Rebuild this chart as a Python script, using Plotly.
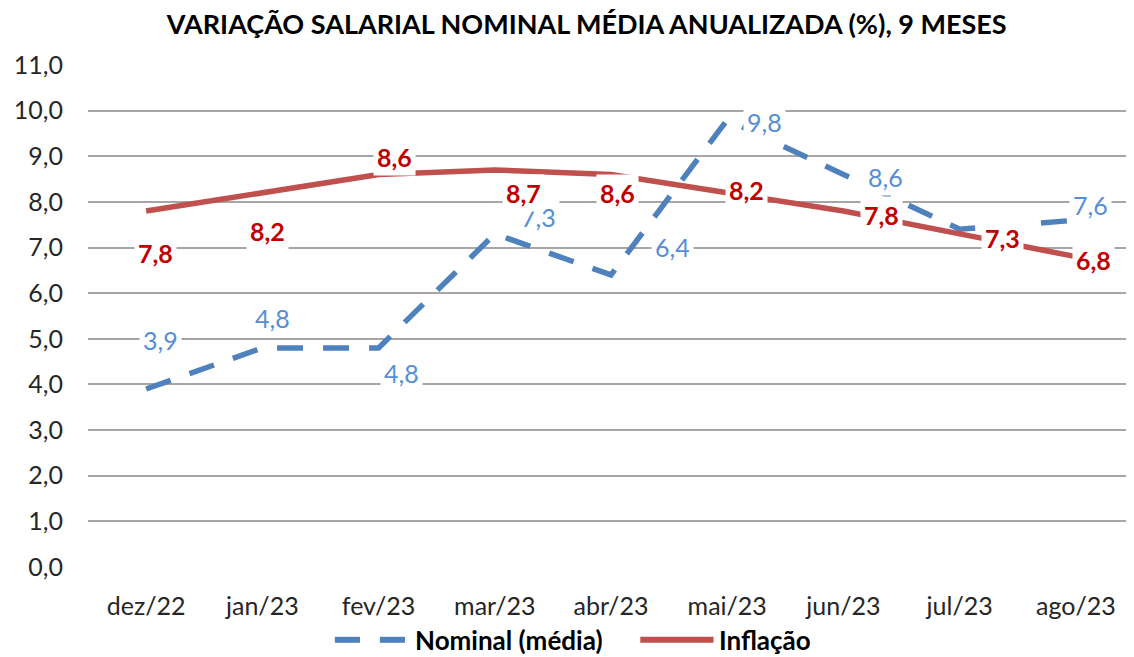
import plotly.graph_objects as go

months = ["dez/22", "jan/23", "fev/23", "mar/23", "abr/23", "mai/23", "jun/23", "jul/23", "ago/23"]
nominal = [3.9, 4.8, 4.8, 7.3, 6.4, 9.8, 8.6, 7.4, 7.6]
inflacao = [7.8, 8.2, 8.6, 8.7, 8.6, 8.2, 7.8, 7.3, 6.8]
nominal_labels = ["3,9", "4,8", "4,8", "7,3", "6,4", "9,8", "8,6", None, "7,6"]
inflacao_labels = ["7,8", "8,2", "8,6", "8,7", "8,6", "8,2", "7,8", "7,3", "6,8"]
y_ticks = [0, 1, 2, 3, 4, 5, 6, 7, 8, 9, 10, 11]

BLUE = "#4F81BD"
RED = "#C0504D"
BLUE_TXT = "#558ED5"
RED_TXT = "#C00000"
FONT = "Lato"

# label offsets in pixels (styling)
nom_shift = [(14, 49), (10, 30), (23, -25), (44, 17), (61, 28), (37, -2), (42, -2), (0, 0), (15, 15)]
inf_shift = [(9, -42), (5, -38), (16, 18), (29, -23), (6, -18), (19, 3), (38, -4), (43, -4), (18, -3)]

fig = go.Figure()
fig.add_trace(go.Scatter(x=months, y=nominal, mode="lines", name="Nominal (média)",
                         line=dict(color=BLUE, width=5.5, dash="26px,20px"), showlegend=False))
fig.add_trace(go.Scatter(x=months, y=inflacao, mode="lines", name="Inflação",
                         line=dict(color=RED, width=5.5), showlegend=False))

ann = []
for m, v, lab, (dx, dy) in zip(months, nominal, nominal_labels, nom_shift):
    if lab is None:
        continue
    ann.append(dict(x=m, y=v, xref="x", yref="y", text=lab, showarrow=False,
                    xshift=dx, yshift=dy, bgcolor="white", borderpad=3,
                    font=dict(family=FONT, size=25, color=BLUE_TXT)))
for m, v, lab, (dx, dy) in zip(months, inflacao, inflacao_labels, inf_shift):
    ann.append(dict(x=m, y=v, xref="x", yref="y", text="<b>" + lab + "</b>", showarrow=False,
                    xshift=dx, yshift=dy, bgcolor="white", borderpad=3,
                    font=dict(family=FONT, size=25, color=RED_TXT)))

# manual legend
LEG_Y = -0.145
ann.append(dict(x=0.311, y=LEG_Y, xref="paper", yref="paper", xanchor="left", yanchor="middle",
                text="<b>Nominal (média)</b>", showarrow=False,
                font=dict(family=FONT, size=26, color="#000000")))
ann.append(dict(x=0.601, y=LEG_Y, xref="paper", yref="paper", xanchor="left", yanchor="middle",
                text="<b>Inflação</b>", showarrow=False,
                font=dict(family=FONT, size=26, color="#000000")))

shapes = [
    dict(type="line", xref="paper", yref="paper", x0=0.236, x1=0.260, y0=LEG_Y, y1=LEG_Y,
         line=dict(color=BLUE, width=6)),
    dict(type="line", xref="paper", yref="paper", x0=0.279, x1=0.303, y0=LEG_Y, y1=LEG_Y,
         line=dict(color=BLUE, width=6)),
    dict(type="line", xref="paper", yref="paper", x0=0.528, x1=0.598, y0=LEG_Y, y1=LEG_Y,
         line=dict(color=RED, width=6)),
]

fig.update_layout(
    width=1126, height=649,
    margin=dict(l=80, r=0, t=57, b=90),
    paper_bgcolor="white", plot_bgcolor="white",
    separators=",.",
    title=dict(text="<b>VARIAÇÃO SALARIAL NOMINAL MÉDIA ANUALIZADA (%), 9 MESES</b>",
               x=0.514, xanchor="center", y=0.974, yanchor="middle",
               font=dict(family=FONT, size=27, color="#000000")),
    annotations=ann, shapes=shapes,
    xaxis=dict(type="category", range=[-0.5, 8.5], showgrid=False, zeroline=False, showline=False,
               tickfont=dict(family=FONT, size=25, color="#262626"), ticks="",
               ticklabelstandoff=22),
    yaxis=dict(range=[0, 11], tickvals=y_ticks, tickformat=".1f", showgrid=True,
               gridcolor="#A6A6A6", gridwidth=2, zeroline=False, showline=False,
               tickfont=dict(family=FONT, size=25, color="#262626"), ticks="",
               ticklabelstandoff=24),
    showlegend=False,
)

fig.write_html("out.html")
